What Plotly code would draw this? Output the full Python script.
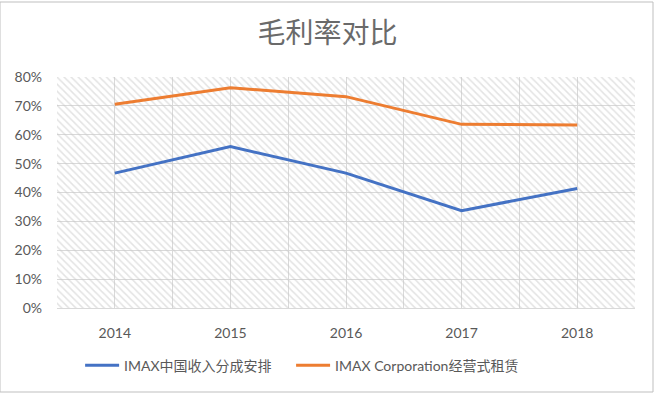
import plotly.graph_objects as go

years = ["2014", "2015", "2016", "2017", "2018"]
imax_china = [0.467, 0.559, 0.467, 0.337, 0.414]
imax_corp = [0.706, 0.763, 0.732, 0.636, 0.634]
series_names = ["IMAX中国收入分成安排", "IMAX Corporation经营式租赁"]
y_ticks = [0, 0.1, 0.2, 0.3, 0.4, 0.5, 0.6, 0.7, 0.8]
title_text = "毛利率对比"

x_idx = list(range(len(years)))
x_lo, x_hi = -0.5, len(years) - 0.5
y_lo, y_hi = 0, 0.8

FONT = "Lato, 'Noto Sans CJK SC', sans-serif"
GRAY = "#595959"

fig = go.Figure()

# hatched plot-area background (transparent between hatch lines so grid shows)
fig.add_trace(go.Scatter(
    x=[x_lo, x_hi, x_hi, x_lo, x_lo], y=[y_lo, y_lo, y_hi, y_hi, y_lo],
    mode="none", fill="toself", fillcolor="rgba(0,0,0,0)",
    fillpattern=dict(shape="\\", fgcolor="#c8c8c8", bgcolor="rgba(0,0,0,0)",
                     size=5, solidity=0.3),
    showlegend=False, hoverinfo="skip"))

fig.add_trace(go.Scatter(x=x_idx, y=imax_china, mode="lines", name=series_names[0],
                         line=dict(color="#4472C4", width=3), legend="legend"))
fig.add_trace(go.Scatter(x=x_idx, y=imax_corp, mode="lines", name=series_names[1],
                         line=dict(color="#ED7D31", width=3), legend="legend2"))

legend_common = dict(orientation="h", y=-0.25, yanchor="middle", xanchor="left",
                     font=dict(size=14, color=GRAY, family=FONT), itemwidth=34,
                     bgcolor="rgba(0,0,0,0)")

fig.update_layout(
    width=655, height=394,
    margin=dict(l=57, r=20, t=77, b=86),
    paper_bgcolor="white", plot_bgcolor="white",
    font=dict(family=FONT, color=GRAY, size=13),
    title=dict(text=title_text, x=0.5, xanchor="center", y=0.915, yanchor="middle",
               font=dict(size=28, color="#6a6a6a", family="'Noto Sans CJK SC', sans-serif")),
    legend=dict(x=0.04, **legend_common),
    legend2=dict(x=0.405, **legend_common),
    showlegend=True,
)
fig.update_xaxes(range=[x_lo, x_hi], tickvals=x_idx, ticktext=years,
                 showgrid=True, gridcolor="#d9d9d9", gridwidth=1,
                 minor=dict(dtick=0.5, tick0=-0.5, showgrid=True, gridcolor="#d9d9d9", gridwidth=1),
                 zeroline=False, showline=True, linecolor="#d9d9d9",
                 ticks="", ticklabelstandoff=12, tickfont=dict(size=14, color=GRAY))
fig.update_yaxes(range=[y_lo, y_hi], tickvals=y_ticks, tickformat=".0%",
                 showgrid=True, gridcolor="#d9d9d9", gridwidth=1,
                 zeroline=False, showline=False, ticks="", ticklabelstandoff=14,
                 tickfont=dict(size=14, color=GRAY))

# chart border
fig.add_shape(type="rect", xref="paper", yref="paper",
              x0=-57/578, x1=1 + 18/578, y0=-84/231, y1=1 + 75/231,
              line=dict(color="#bfbfbf", width=1))

fig.write_html("out.html")
